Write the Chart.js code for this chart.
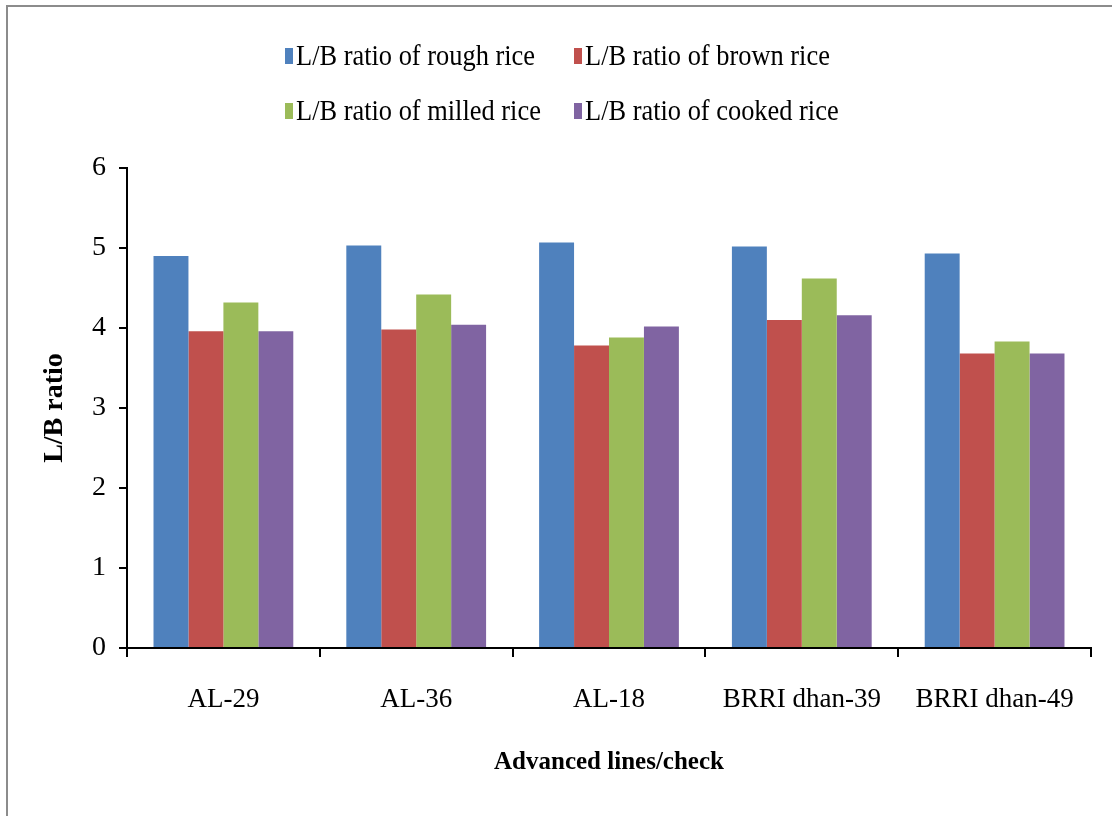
<!DOCTYPE html>
<html>
<head>
<meta charset="utf-8">
<title>L/B ratio of rice</title>
<script src="https://cdn.jsdelivr.net/npm/chart.js@4.4.1/dist/chart.umd.min.js"></script>
<style>
  html, body { margin: 0; padding: 0; background: #ffffff; }
  #wrap { width: 1112px; height: 816px; position: relative; }
</style>
</head>
<body>
<div id="wrap"><canvas id="c" width="1112" height="816"></canvas></div>
<script>
// Advanced lines and checks
const categories = ['AL-29', 'AL-36', 'AL-18', 'BRRI dhan-39', 'BRRI dhan-49'];

// Length/breadth ratios per grain state
const roughRice  = [4.90, 5.03, 5.07, 5.02, 4.93];
const brownRice  = [3.96, 3.98, 3.78, 4.10, 3.68];
const milledRice = [4.32, 4.42, 3.88, 4.62, 3.83];
const cookedRice = [3.96, 4.04, 4.02, 4.16, 3.68];

const seriesNames = [
  'L/B ratio of rough rice',
  'L/B ratio of brown rice',
  'L/B ratio of milled rice',
  'L/B ratio of cooked rice'
];

const yTicks = [0, 1, 2, 3, 4, 5, 6];

const FONT = '"Liberation Serif", "Times New Roman", serif';

// Page frame drawn behind the chart
const framePlugin = {
  id: 'frame',
  beforeDraw(chart) {
    const ctx = chart.ctx;
    ctx.save();
    ctx.fillStyle = '#ffffff';
    ctx.fillRect(0, 0, chart.width, chart.height);
    ctx.strokeStyle = '#8c8c8c';
    ctx.lineWidth = 2;
    ctx.beginPath();
    ctx.moveTo(7, chart.height);
    ctx.lineTo(7, 6);
    ctx.lineTo(chart.width, 6);
    ctx.stroke();
    ctx.restore();
  }
};

// Legend laid out as two rows of two entries, narrow serif text
const legendPlugin = {
  id: 'twoRowLegend',
  afterDraw(chart) {
    const ctx = chart.ctx;
    const squeeze = 0.88;
    chart.data.datasets.forEach((ds, i) => {
      const col = i % 2;
      const row = Math.floor(i / 2);
      const x = col ? 574 : 285;
      const y = row ? 111 : 56;
      ctx.save();
      ctx.fillStyle = ds.backgroundColor;
      ctx.fillRect(x, y - 8, 8, 16);
      ctx.translate(x + 11, y);
      ctx.scale(squeeze, 1);
      ctx.font = '30px ' + FONT;
      ctx.textBaseline = 'middle';
      ctx.textAlign = 'left';
      ctx.fillStyle = '#000000';
      ctx.fillText(ds.label, 0, 1);
      ctx.restore();
    });
  }
};

const colors = ['#4F81BD', '#C0504D', '#9BBB59', '#8064A2'];
const seriesValues = [roughRice, brownRice, milledRice, cookedRice];

new Chart(document.getElementById('c'), {
  type: 'bar',
  data: {
    labels: categories,
    datasets: seriesValues.map((vals, i) => ({
      label: seriesNames[i],
      data: vals,
      backgroundColor: colors[i],
      borderWidth: 0,
      barPercentage: 1.0,
      categoryPercentage: 0.725
    }))
  },
  options: {
    responsive: false,
    animation: false,
    devicePixelRatio: 1,
    layout: { padding: { left: 0, top: 168, right: 21, bottom: 0 } },
    plugins: {
      legend: { display: false },
      tooltip: { enabled: false }
    },
    scales: {
      x: {
        afterFit(scale) { scale.height = 168; },
        border: { display: true, color: '#000000', width: 2 },
        grid: {
          offset: true,
          drawOnChartArea: false,
          drawTicks: true,
          tickLength: 9,
          color: '#000000',
          lineWidth: 2
        },
        ticks: {
          color: '#000000',
          font: { family: FONT, size: 27 },
          padding: 27,
          maxRotation: 0
        },
        title: {
          display: true,
          text: 'Advanced lines/check',
          color: '#000000',
          font: { family: FONT, size: 25, weight: 'bold' },
          padding: { top: 0, bottom: 38 }
        }
      },
      y: {
        min: 0,
        max: 6,
        afterFit(scale) { scale.width = 127; },
        afterBuildTicks(scale) { scale.ticks = yTicks.map(v => ({ value: v })); },
        border: { display: true, color: '#000000', width: 2 },
        grid: {
          drawOnChartArea: false,
          drawTicks: true,
          tickLength: 8,
          color: '#000000',
          lineWidth: 2
        },
        ticks: {
          color: '#000000',
          font: { family: FONT, size: 28 },
          padding: 13
        },
        title: {
          display: true,
          text: 'L/B ratio',
          color: '#000000',
          font: { family: FONT, size: 28, weight: 'bold' },
          padding: { top: 38, bottom: 0 }
        }
      }
    }
  },
  plugins: [framePlugin, legendPlugin]
});
</script>
</body>
</html>
